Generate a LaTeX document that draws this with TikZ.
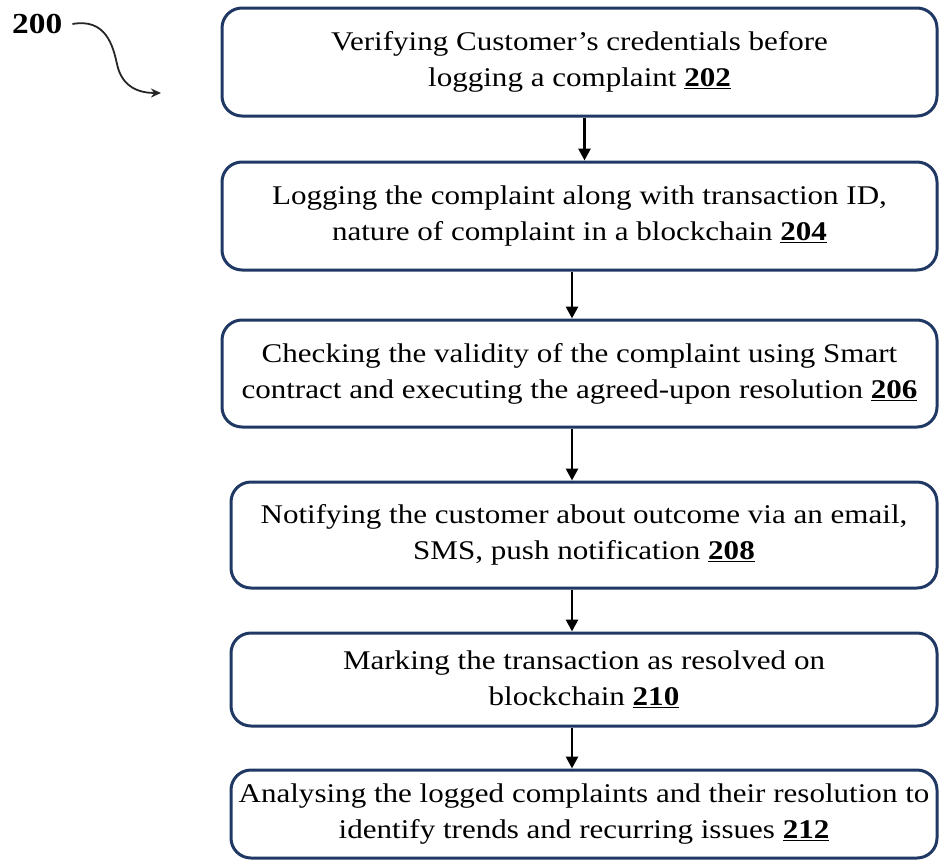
\documentclass[tikz,border=0pt]{standalone}
\usepackage{fontspec}
\setmainfont[FakeStretch=1.15]{Liberation Serif}
\usetikzlibrary{arrows.meta,positioning}
\definecolor{boxline}{RGB}{31,56,100}
\newcommand{\refnum}[1]{\underline{\textbf{#1}}}
\tikzset{
  stepbox/.style={draw=boxline, line width=3pt, rounded corners=20pt, fill=white,
    align=center, inner sep=0pt, font=\fontsize{27}{36}\selectfont},
  arr/.style={draw=black, line width=2.8pt, -{Triangle[length=12pt,width=12pt]}},
}
\begin{document}
\begin{tikzpicture}[x=1pt,y=-1pt]
\useasboundingbox (0,0) rectangle (939,862);

% process steps
\node[stepbox, minimum width=715pt, minimum height=108pt] (b1) at (579.5,62)
  {Verifying Customer's credentials before\\logging a complaint \refnum{202}};
\node[stepbox, minimum width=715pt, minimum height=108pt] (b2) at (579.5,216)
  {Logging the complaint along with transaction ID,\\nature of complaint in a blockchain \refnum{204}};
\node[stepbox, minimum width=715pt, minimum height=107pt] (b3) at (579.5,373.5)
  {Checking the validity of the complaint using Smart\\contract and executing the agreed-upon resolution \refnum{206}};
\node[stepbox, minimum width=706pt, minimum height=106pt] (b4) at (584,535)
  {Notifying the customer about outcome via an email,\\SMS, push notification \refnum{208}};
\node[stepbox, minimum width=706pt, minimum height=93pt] (b5) at (584,679.5)
  {Marking the transaction as resolved on\\blockchain \refnum{210}};
\node[stepbox, minimum width=706pt, minimum height=88pt] (b6) at (584,814)
  {Analysing the logged complaints and their resolution to\\identify trends and recurring issues \refnum{212}};

% connectors
\draw[arr] ([xshift=5pt]b1.south) -- ([xshift=5pt]b1.south |- b2.north);
\draw[arr] ([xshift=-7.5pt]b2.south) -- ([xshift=-7.5pt]b2.south |- b3.north);
\draw[arr] ([xshift=-7.5pt]b3.south) -- ([xshift=-7.5pt]b3.south |- b4.north);
\draw[arr] ([xshift=-12pt]b4.south) -- ([xshift=-12pt]b4.south |- b5.north);
\draw[arr] ([xshift=-12pt]b5.south) -- ([xshift=-12pt]b5.south |- b6.north);

% figure reference label with curly leader
\node[font=\fontsize{29}{29}\selectfont\bfseries, inner sep=0pt, anchor=west] (fig) at (12,24) {200};
\coordinate (figtip) at (161,93);
\draw[line width=1.8pt, black!85, -{Stealth[length=10pt,width=9pt]}]
  ([xshift=10pt]fig.east) .. controls (106,18) and (113,46) .. (117,64)
  .. controls (122,88) and (140,93) .. (figtip);
\end{tikzpicture}
\end{document}
